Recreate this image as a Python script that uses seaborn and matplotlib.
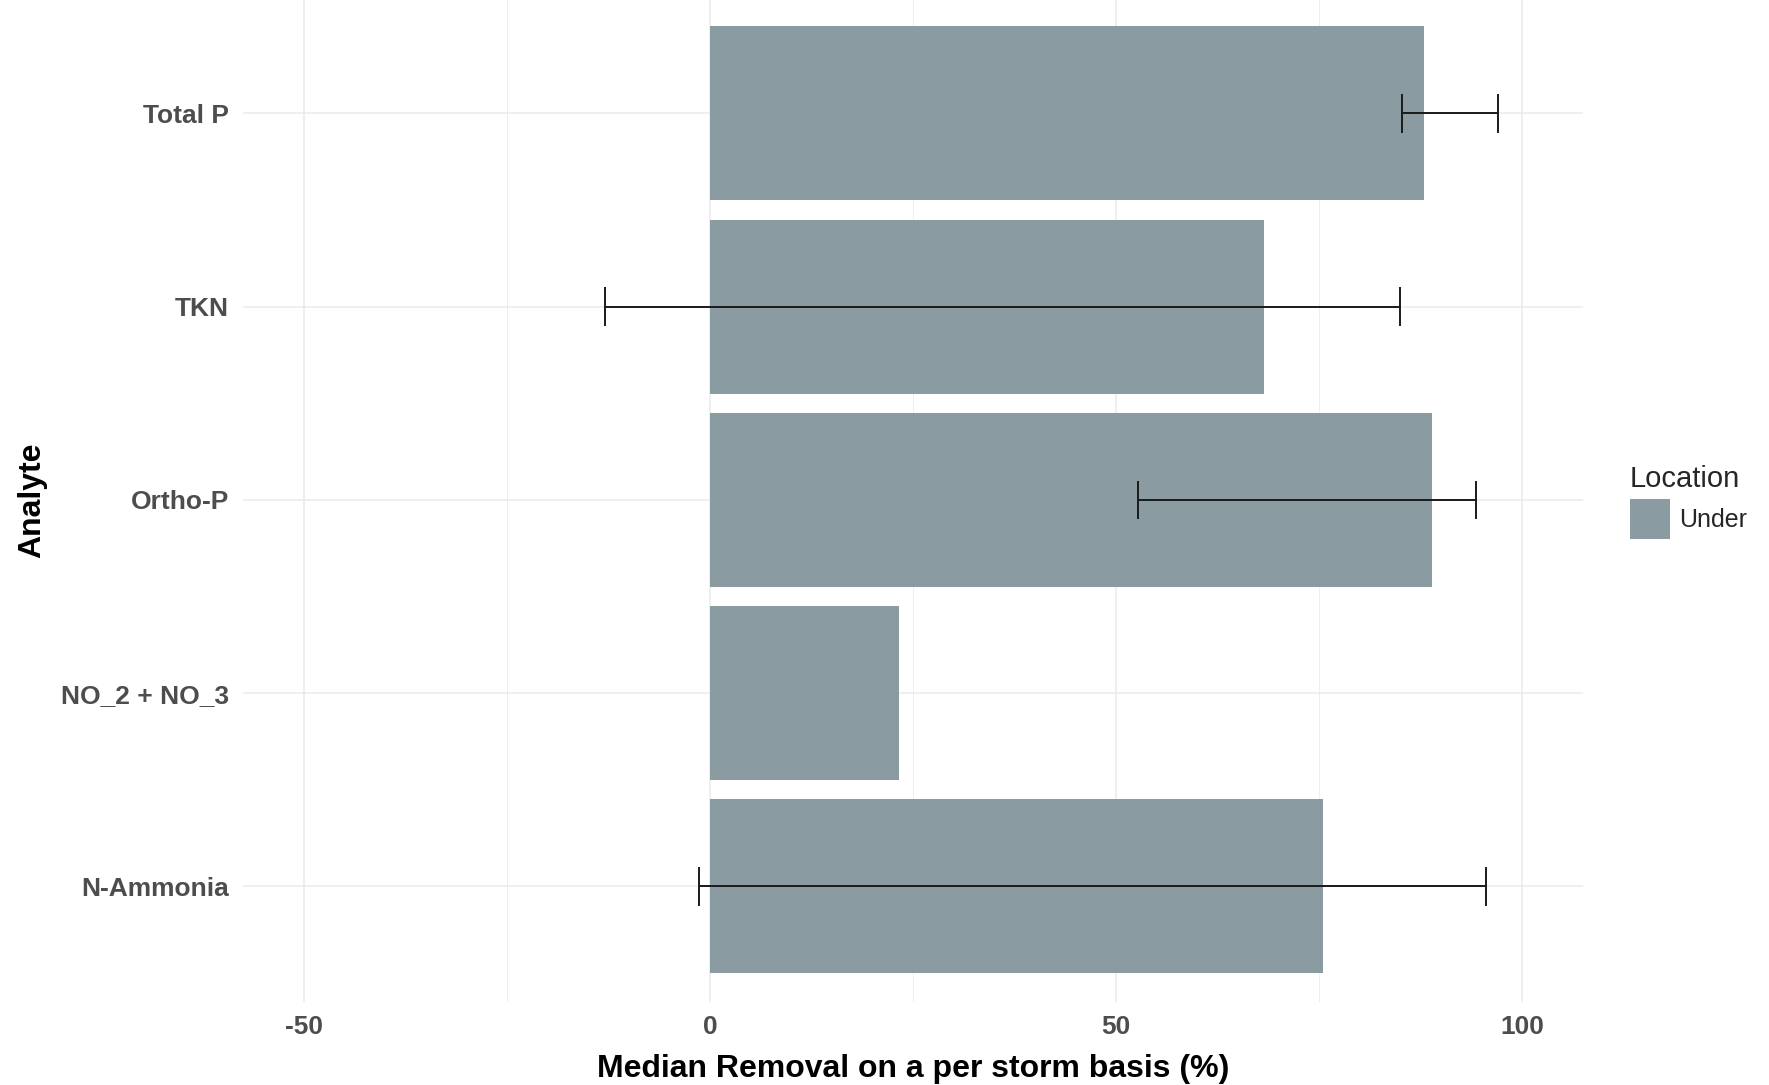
import numpy as np
import pandas as pd
import matplotlib
matplotlib.use("Agg")
import matplotlib.pyplot as plt
import seaborn as sns

# Median per-storm removal (%) by analyte, with the range of storm removals
analytes = ["Total P", "TKN", "Ortho-P", "NO_2 + NO_3", "N-Ammonia"]
median_removal = [87.9, 68.2, 88.9, 23.3, 75.5]
range_low = [85.2, -12.9, 52.7, np.nan, -1.4]
range_high = [97.0, 84.9, 94.3, np.nan, 95.6]
location = ["Under"] * 5
x_ticks = [-50, 0, 50, 100]

df = pd.DataFrame({
    "Analyte": analytes,
    "Removal": median_removal,
    "Low": range_low,
    "High": range_high,
    "Location": location,
})

sns.set_theme(style="white")
plt.rcParams["font.family"] = ["Liberation Sans", "DejaVu Sans"]
plt.rcParams["axes.unicode_minus"] = False

bar_color = "#8A9CA2"
grid_color = "#EBEBEB"
tick_color = "#4D4D4D"

fig = plt.figure(figsize=(17.69, 10.85), dpi=100)
ax = fig.add_axes([0.1374, 0.0762, 0.8949 - 0.1374, 0.9262])

sns.barplot(data=df, x="Removal", y="Analyte", hue="Location",
            order=analytes, palette=[bar_color], orient="h",
            width=0.9, dodge=False, saturation=1, errorbar=None,
            legend=True, ax=ax, zorder=3, linewidth=0)

# Range whiskers with caps spanning 0.2 category units
pos = np.arange(len(analytes))
has_range = ~df["Low"].isna().to_numpy()
ax.hlines(pos[has_range], df["Low"][has_range], df["High"][has_range],
          color="#1a1a1a", lw=1.4, zorder=4)
ax.vlines(df["Low"][has_range], pos[has_range] - 0.1, pos[has_range] + 0.1,
          color="#1a1a1a", lw=1.4, zorder=4)
ax.vlines(df["High"][has_range], pos[has_range] - 0.1, pos[has_range] + 0.1,
          color="#1a1a1a", lw=1.4, zorder=4)

ax.set_xlim(-57.5, 107.5)
ax.set_ylim(len(analytes) - 0.4, -0.6)
ax.set_xticks(x_ticks)
ax.set_xticks([-25, 25, 75], minor=True)

ax.grid(True, which="major", axis="both", color=grid_color, lw=1.1, zorder=0)
ax.grid(True, which="minor", axis="x", color=grid_color, lw=0.6, zorder=0)
ax.set_axisbelow(True)
for s in ax.spines.values():
    s.set_visible(False)

ax.tick_params(axis="both", which="both", length=0)
ax.tick_params(axis="y", pad=10)
ax.tick_params(axis="x", pad=9)
for lab in ax.get_yticklabels() + ax.get_xticklabels():
    lab.set_fontsize(19)
    lab.set_fontweight("bold")
    lab.set_color(tick_color)

ax.set_xlabel("Median Removal on a per storm basis (%)", fontsize=23,
              fontweight="bold", color="black", labelpad=11)
ax.set_ylabel("Analyte", fontsize=23, fontweight="bold", color="black",
              labelpad=10)

leg = ax.legend(title="Location", loc="upper left",
                bbox_to_anchor=(1.0350, 0.535), frameon=False,
                fontsize=18, title_fontsize=21, handlelength=1.62,
                handleheight=2.1, handletextpad=0.36, borderpad=0,
                borderaxespad=0, labelspacing=0.25, alignment="left")

fig.savefig("out.png", dpi=100, facecolor="white")
